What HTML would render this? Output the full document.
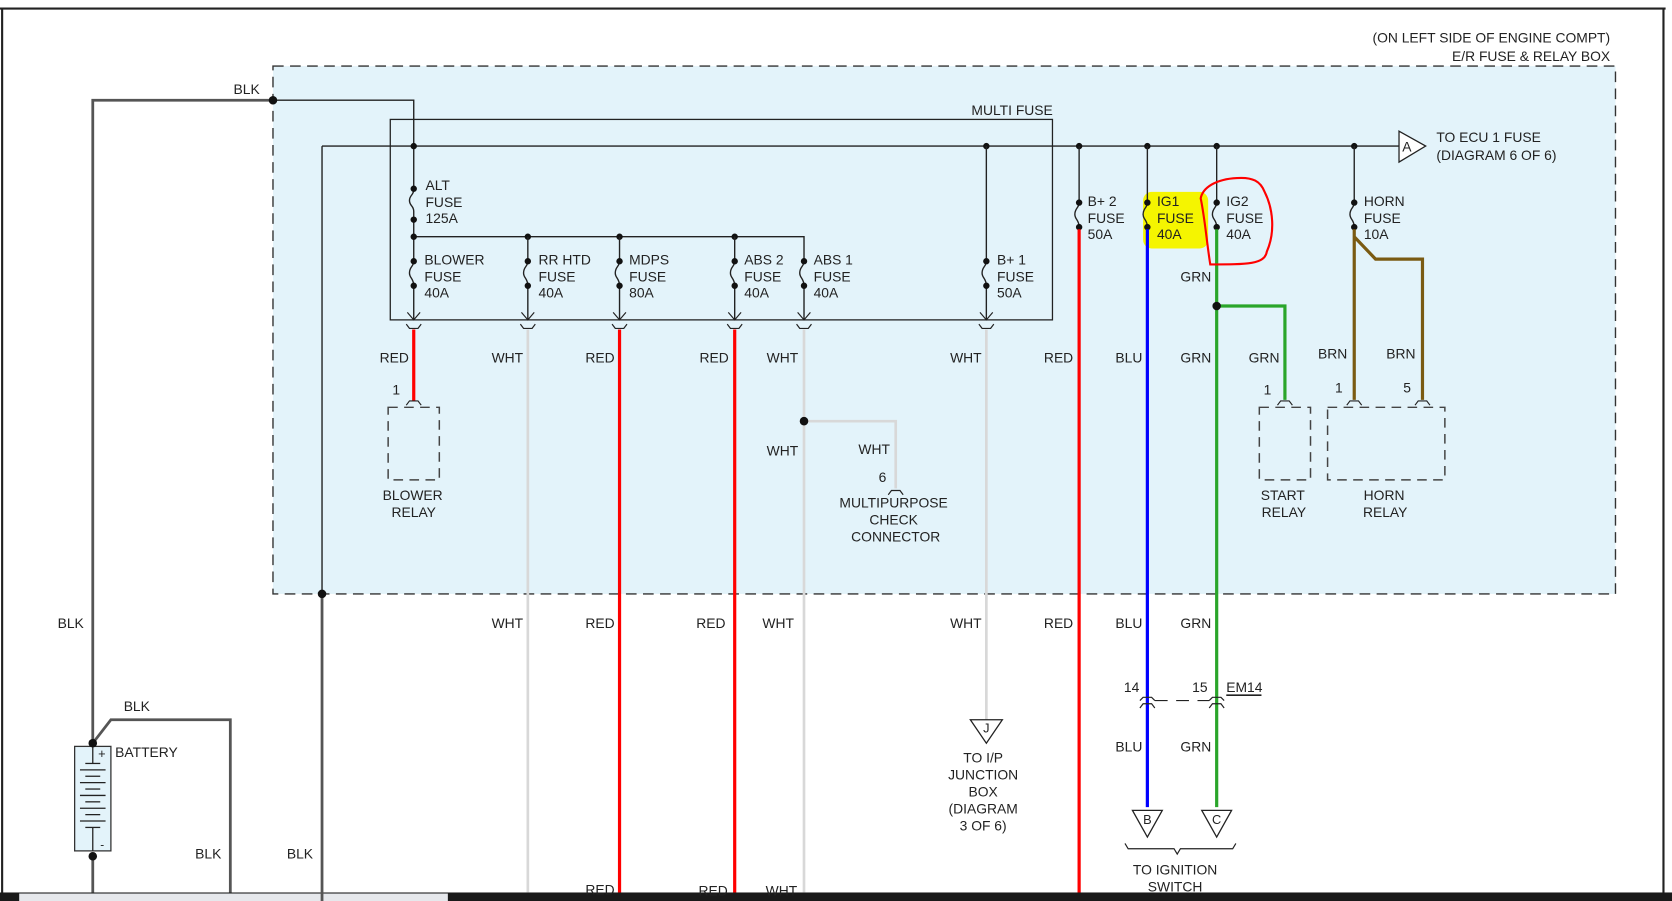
<!DOCTYPE html>
<html><head><meta charset="utf-8"><style>
html,body{margin:0;padding:0;background:#fff;}
svg{display:block;}
text{font-family:"Liberation Sans",Arial,sans-serif;font-size:13px;fill:#222;}
.m{text-anchor:middle}
.e{text-anchor:end}
</style></head><body>
<svg width="1672" height="901" viewBox="0 0 1568 845" preserveAspectRatio="none" xmlns="http://www.w3.org/2000/svg">
<rect x="0" y="0" width="1568" height="845" fill="#fff"/>
<!-- borders -->
<line x1="0" y1="8" x2="1562" y2="8" stroke="#222" stroke-width="2"/>
<line x1="2" y1="8" x2="2" y2="845" stroke="#222" stroke-width="2"/>
<line x1="1560" y1="8" x2="1560" y2="845" stroke="#222" stroke-width="2"/>
<rect x="0" y="837" width="1568" height="8" fill="#1a1a1a"/>
<rect x="18" y="838" width="402" height="7" fill="#e6e8ec"/>

<!-- E/R box -->
<rect x="256" y="62" width="1259" height="495" fill="#e3f3fa" stroke="#333" stroke-width="1.3" stroke-dasharray="10,6"/>
<text class="e" x="1510" y="40">(ON LEFT SIDE OF ENGINE COMPT)</text>
<text class="e" x="1510" y="57">E/R FUSE &amp; RELAY BOX</text>

<!-- yellow highlight -->
<rect x="1072" y="180" width="61" height="53" rx="8" fill="#f5f500"/>

<!-- multi fuse box -->
<rect x="366" y="112" width="621" height="188" fill="none" stroke="#222" stroke-width="1.2"/>
<text x="911" y="108">MULTI FUSE</text>

<!-- BLK wires -->
<path d="M87,697 V94 H256" fill="none" stroke="#555" stroke-width="2.6"/>
<path d="M256,94 H388 V300" fill="none" stroke="#222" stroke-width="1.3"/>
<circle cx="256" cy="94" r="4" fill="#111"/>
<text x="219" y="88">BLK</text>
<path d="M302,137 V557" fill="none" stroke="#222" stroke-width="1.3"/>
<path d="M302,557 V845" fill="none" stroke="#555" stroke-width="2.6"/>
<circle cx="302" cy="557" r="4" fill="#111"/>
<line x1="302" y1="137" x2="1312" y2="137" stroke="#222" stroke-width="1.3"/>
<!-- A connector -->
<path d="M1312,123 L1337,137 L1312,152 Z" fill="#fff" stroke="#222" stroke-width="1.2"/>
<text x="1315" y="142">A</text>
<text x="1347" y="133">TO ECU 1 FUSE</text>
<text x="1347" y="150">(DIAGRAM 6 OF 6)</text>

<g fill="#111">
<circle cx="388" cy="137" r="3"/><circle cx="925" cy="137" r="3"/><circle cx="1012" cy="137" r="3"/>
<circle cx="1076" cy="137" r="3"/><circle cx="1141" cy="137" r="3"/><circle cx="1270" cy="137" r="3"/>
</g>

<!-- ALT fuse -->
<g stroke="#222" stroke-width="1.3" fill="none">
<line x1="388" y1="177" x2="388" y2="206" stroke="#e3f3fa" stroke-width="3"/>
<path d="M388,178 c0,5 -4,5 -4,10 c0,5 4,5 4,10 v8"/>
</g>
<circle cx="388" cy="177" r="3" fill="#111"/><circle cx="388" cy="206" r="3" fill="#111"/>
<text x="399" y="178">ALT</text><text x="399" y="194">FUSE</text><text x="399" y="209">125A</text>

<!-- horizontal bus -->
<path d="M388,222 H754 V300" fill="none" stroke="#222" stroke-width="1.3"/>
<g fill="#111"><circle cx="388" cy="222" r="3"/><circle cx="495" cy="222" r="3"/><circle cx="581" cy="222" r="3"/><circle cx="689" cy="222" r="3"/></g>
<g stroke="#222" stroke-width="1.3" fill="none">
<line x1="495" y1="222" x2="495" y2="300"/><line x1="581" y1="222" x2="581" y2="300"/><line x1="689" y1="222" x2="689" y2="300"/>
<line x1="925" y1="137" x2="925" y2="300"/>
</g>

<!-- fuses row -->
<g id="fz">
<g stroke="#222" stroke-width="1.3" fill="none">
<line x1="388" y1="245" x2="388" y2="268" stroke="#e3f3fa" stroke-width="3"/><path d="M388,245 c0,5 -4,5 -4,11 c0,5 4,5 4,12"/>
<line x1="495" y1="245" x2="495" y2="268" stroke="#e3f3fa" stroke-width="3"/><path d="M495,245 c0,5 -4,5 -4,11 c0,5 4,5 4,12"/>
<line x1="581" y1="245" x2="581" y2="268" stroke="#e3f3fa" stroke-width="3"/><path d="M581,245 c0,5 -4,5 -4,11 c0,5 4,5 4,12"/>
<line x1="689" y1="245" x2="689" y2="268" stroke="#e3f3fa" stroke-width="3"/><path d="M689,245 c0,5 -4,5 -4,11 c0,5 4,5 4,12"/>
<line x1="754" y1="245" x2="754" y2="268" stroke="#e3f3fa" stroke-width="3"/><path d="M754,245 c0,5 -4,5 -4,11 c0,5 4,5 4,12"/>
<line x1="925" y1="245" x2="925" y2="268" stroke="#e3f3fa" stroke-width="3"/><path d="M925,245 c0,5 -4,5 -4,11 c0,5 4,5 4,12"/>
</g>
<g fill="#111">
<circle cx="388" cy="245" r="3"/><circle cx="388" cy="268" r="3"/>
<circle cx="495" cy="245" r="3"/><circle cx="495" cy="268" r="3"/>
<circle cx="581" cy="245" r="3"/><circle cx="581" cy="268" r="3"/>
<circle cx="689" cy="245" r="3"/><circle cx="689" cy="268" r="3"/>
<circle cx="754" cy="245" r="3"/><circle cx="754" cy="268" r="3"/>
<circle cx="925" cy="245" r="3"/><circle cx="925" cy="268" r="3"/>
</g>
</g>
<text x="398" y="248">BLOWER</text><text x="398" y="264">FUSE</text><text x="398" y="279">40A</text>
<text x="505" y="248">RR HTD</text><text x="505" y="264">FUSE</text><text x="505" y="279">40A</text>
<text x="590" y="248">MDPS</text><text x="590" y="264">FUSE</text><text x="590" y="279">80A</text>
<text x="698" y="248">ABS 2</text><text x="698" y="264">FUSE</text><text x="698" y="279">40A</text>
<text x="763" y="248">ABS 1</text><text x="763" y="264">FUSE</text><text x="763" y="279">40A</text>
<text x="935" y="248">B+ 1</text><text x="935" y="264">FUSE</text><text x="935" y="279">50A</text>

<!-- arrows and connectors -->
<g stroke="#222" stroke-width="1.1" fill="none">
<path d="M382,293 L388,300 L394,293 M381,304 l3,4 h8 l3,-4"/>
<path d="M489,293 L495,300 L501,293 M488,304 l3,4 h8 l3,-4"/>
<path d="M575,293 L581,300 L587,293 M574,304 l3,4 h8 l3,-4"/>
<path d="M683,293 L689,300 L695,293 M682,304 l3,4 h8 l3,-4"/>
<path d="M748,293 L754,300 L760,293 M747,304 l3,4 h8 l3,-4"/>
<path d="M919,293 L925,300 L931,293 M918,304 l3,4 h8 l3,-4"/>
</g>

<!-- colored wires down -->
<line x1="388" y1="309" x2="388" y2="376" stroke="#f00" stroke-width="3"/>
<line x1="495" y1="309" x2="495" y2="837" stroke="#d8d8d8" stroke-width="2.5"/>
<line x1="581" y1="309" x2="581" y2="837" stroke="#f00" stroke-width="3"/>
<line x1="689" y1="309" x2="689" y2="837" stroke="#f00" stroke-width="3"/>
<line x1="754" y1="309" x2="754" y2="837" stroke="#d8d8d8" stroke-width="2.5"/>
<line x1="925" y1="309" x2="925" y2="675" stroke="#d8d8d8" stroke-width="2.5"/>
<path d="M754,395 H840 V458" fill="none" stroke="#d8d8d8" stroke-width="2.5"/>
<circle cx="754" cy="395" r="4" fill="#111"/>

<!-- B+2 -->
<g stroke="#222" stroke-width="1.3" fill="none">
<line x1="1012" y1="137" x2="1012" y2="222"/>
<line x1="1076" y1="137" x2="1076" y2="222"/>
<line x1="1141" y1="137" x2="1141" y2="222"/>
<line x1="1270" y1="137" x2="1270" y2="222"/>
</g>
<g stroke-width="1.3" fill="none">
<line x1="1012" y1="190" x2="1012" y2="213" stroke="#e3f3fa" stroke-width="3"/><path d="M1012,190 c0,5 -4,5 -4,11 c0,5 4,5 4,12" stroke="#222"/>
<line x1="1076" y1="190" x2="1076" y2="213" stroke="#f5f500" stroke-width="3"/><path d="M1076,190 c0,5 -4,5 -4,11 c0,5 4,5 4,12" stroke="#222"/>
<line x1="1141" y1="190" x2="1141" y2="213" stroke="#e3f3fa" stroke-width="3"/><path d="M1141,190 c0,5 -4,5 -4,11 c0,5 4,5 4,12" stroke="#222"/>
<line x1="1270" y1="190" x2="1270" y2="213" stroke="#e3f3fa" stroke-width="3"/><path d="M1270,190 c0,5 -4,5 -4,11 c0,5 4,5 4,12" stroke="#222"/>
</g>
<g fill="#111">
<circle cx="1012" cy="190" r="3"/><circle cx="1012" cy="213" r="3"/>
<circle cx="1076" cy="190" r="3"/><circle cx="1076" cy="213" r="3"/>
<circle cx="1141" cy="190" r="3"/><circle cx="1141" cy="213" r="3"/>
<circle cx="1270" cy="190" r="3"/><circle cx="1270" cy="213" r="3"/>
</g>
<text x="1020" y="193">B+ 2</text><text x="1020" y="209">FUSE</text><text x="1020" y="224">50A</text>
<text x="1085" y="193">IG1</text><text x="1085" y="209">FUSE</text><text x="1085" y="224">40A</text>
<text x="1150" y="193">IG2</text><text x="1150" y="209">FUSE</text><text x="1150" y="224">40A</text>
<text x="1279" y="193">HORN</text><text x="1279" y="209">FUSE</text><text x="1279" y="224">10A</text>

<line x1="1012" y1="215" x2="1012" y2="837" stroke="#f00" stroke-width="3"/>
<line x1="1076" y1="215" x2="1076" y2="757" stroke="#0000ff" stroke-width="3"/>
<line x1="1141" y1="215" x2="1141" y2="757" stroke="#2aa52a" stroke-width="3"/>
<path d="M1141,287 H1205 V375" fill="none" stroke="#2aa52a" stroke-width="3"/>
<circle cx="1141" cy="287" r="4" fill="#111"/>
<path d="M1270,215 V375 M1270,222 L1290,243 H1334 V375" fill="none" stroke="#7a5a12" stroke-width="3"/>

<!-- red hand circle -->
<path d="M1126,186 C1128,176 1140,168 1160,167 C1175,166 1182,170 1186,180 C1194,196 1196,218 1188,236 C1186,248 1170,248 1135,248 C1132,230 1130,205 1126,186 Z" fill="none" stroke="#f00" stroke-width="2"/>

<!-- labels y=335 -->
<text x="356" y="340">RED</text><text x="461" y="340">WHT</text><text x="549" y="340">RED</text>
<text x="656" y="340">RED</text><text x="719" y="340">WHT</text><text x="891" y="340">WHT</text>
<text x="979" y="340">RED</text><text x="1046" y="340">BLU</text><text x="1107" y="340">GRN</text>
<text x="1107" y="264">GRN</text><text x="1171" y="340">GRN</text><text x="1236" y="336">BRN</text><text x="1300" y="336">BRN</text>
<text x="719" y="427">WHT</text><text x="805" y="426">WHT</text>

<!-- relays -->
<g stroke="#444" stroke-width="1.4" fill="none" stroke-dasharray="9,6">
<rect x="364" y="382" width="48" height="68"/>
<rect x="1181" y="382" width="48" height="68"/>
<rect x="1245" y="382" width="110" height="68"/>
</g>
<g stroke="#222" stroke-width="1.1" fill="none">
<path d="M381,380 l3,-4 h8 l3,4"/>
<path d="M1198,380 l3,-4 h8 l3,4"/>
<path d="M1263,380 l3,-4 h8 l3,4"/>
<path d="M1327,380 l3,-4 h8 l3,4"/>
<path d="M833,464 l3,-4 h8 l3,4"/>
</g>
<text x="368" y="370">1</text><text x="1185" y="370">1</text><text x="1252" y="368">1</text><text x="1316" y="368">5</text><text x="824" y="452">6</text>
<text class="m" x="387" y="469">BLOWER</text><text class="m" x="388" y="485">RELAY</text>
<text class="m" x="1203" y="469">START</text><text class="m" x="1204" y="485">RELAY</text>
<text class="m" x="1298" y="469">HORN</text><text class="m" x="1299" y="485">RELAY</text>
<text class="m" x="838" y="476">MULTIPURPOSE</text><text class="m" x="838" y="492">CHECK</text><text class="m" x="840" y="508">CONNECTOR</text>

<!-- lower labels -->
<text x="54" y="589">BLK</text>
<text x="461" y="589">WHT</text><text x="549" y="589">RED</text><text x="653" y="589">RED</text>
<text x="715" y="589">WHT</text><text x="891" y="589">WHT</text><text x="979" y="589">RED</text>
<text x="1046" y="589">BLU</text><text x="1107" y="589">GRN</text>
<text x="549" y="839">RED</text><text x="655" y="840">RED</text><text x="718" y="840">WHT</text>

<!-- J connector -->
<path d="M910,675 H940 L925,697 Z" fill="#fff" stroke="#222" stroke-width="1.2"/>
<text class="m" x="925" y="687" style="font-size:12px">J</text>
<text class="m" x="922" y="715">TO I/P</text><text class="m" x="922" y="731">JUNCTION</text><text class="m" x="922" y="747">BOX</text>
<text class="m" x="922" y="763">(DIAGRAM</text><text class="m" x="922" y="779">3 OF 6)</text>

<!-- EM14 -->
<g stroke="#222" stroke-width="1.1" fill="none">
<path d="M1069,657 l3,-3 h8 l3,3 M1069,664 l3,-4 h8 l3,4"/>
<path d="M1134,657 l3,-3 h8 l3,3 M1134,664 l3,-4 h8 l3,4"/>
<path d="M1083,657 H1134" stroke-dasharray="12,8"/>
<line x1="1150" y1="652" x2="1183" y2="652" stroke-width="1.5"/>
</g>
<text x="1054" y="649">14</text><text x="1118" y="649">15</text><text x="1150" y="649">EM14</text>
<text x="1046" y="705">BLU</text><text x="1107" y="705">GRN</text>

<!-- B C -->
<path d="M1062,760 H1090 L1076,785 Z" fill="#fff" stroke="#222" stroke-width="1.2"/>
<path d="M1127,760 H1155 L1141,785 Z" fill="#fff" stroke="#222" stroke-width="1.2"/>
<text class="m" x="1076" y="773" style="font-size:12px">B</text>
<text class="m" x="1141" y="773" style="font-size:12px">C</text>
<path d="M1055,791 l3,5 H1101 l3,5 l3,-5 H1156 l3,-5" fill="none" stroke="#222" stroke-width="1.1"/>
<text class="m" x="1102" y="820">TO IGNITION</text><text class="m" x="1102" y="836">SWITCH</text>

<!-- battery -->
<path d="M87,697 L104,675 H216 V837" fill="none" stroke="#555" stroke-width="2.6"/>
<line x1="87" y1="803" x2="87" y2="837" stroke="#555" stroke-width="2.6"/>
<text x="116" y="667">BLK</text>
<rect x="70" y="700" width="34" height="98" fill="#e3f3fa" stroke="#333" stroke-width="1.2"/>
<g stroke="#222" stroke-width="1.2">
<line x1="87" y1="700" x2="87" y2="716"/>
<line x1="80" y1="716" x2="94" y2="716"/>
<line x1="75" y1="722" x2="99" y2="722"/><line x1="80" y1="728" x2="94" y2="728"/>
<line x1="75" y1="734" x2="99" y2="734"/><line x1="80" y1="740" x2="94" y2="740"/>
<line x1="75" y1="746" x2="99" y2="746"/><line x1="80" y1="752" x2="94" y2="752"/>
<line x1="75" y1="758" x2="99" y2="758"/><line x1="80" y1="764" x2="94" y2="764"/>
<line x1="75" y1="770" x2="99" y2="770"/><line x1="80" y1="776" x2="94" y2="776"/>
<line x1="87" y1="776" x2="87" y2="798"/>
</g>
<text x="92" y="711" style="font-size:12px">+</text>
<text x="94" y="796" style="font-size:11px">-</text>
<circle cx="87" cy="697" r="4" fill="#111"/><circle cx="87" cy="803" r="4" fill="#111"/>
<text x="108" y="710">BATTERY</text>
<text x="183" y="805">BLK</text><text x="269" y="805">BLK</text>
</svg>
</body></html>
